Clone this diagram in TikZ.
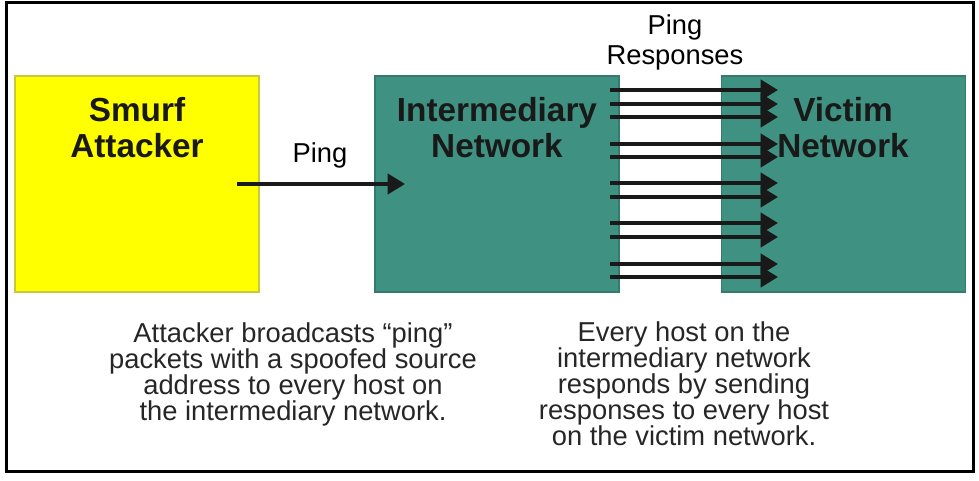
\documentclass[tikz,border=0pt]{standalone}
\usepackage{fontspec}
\setmainfont{Liberation Sans}
\usepackage{xcolor}
\usetikzlibrary{arrows.meta,positioning}
\definecolor{smurfyellow}{HTML}{FFFF00}
\definecolor{smurfedge}{HTML}{C9C940}
\definecolor{netteal}{HTML}{3F9182}
\definecolor{netedge}{HTML}{347A6D}

\begin{document}
\begin{tikzpicture}[x=0.75pt, y=-0.75pt, every node/.style={inner sep=0pt}, box/.style={draw, line width=1pt, minimum width=183pt, minimum height=162pt}, ttl/.style={font=\fontsize{25}{27}\selectfont\bfseries, align=center, anchor=base, text=black!90}, lbl/.style={font=\fontsize{20.5}{22.5}\selectfont, align=center, anchor=base}, note/.style={font=\fontsize{20.5}{19.5}\selectfont, align=center, anchor=base, text=black!85}, arr/.style={-{Triangle[length=13pt, width=15pt]}, line width=3pt, black!90}]
\useasboundingbox (0,0) rectangle (979,481);
\draw[line width=2.25pt] (6,3) rectangle (973,471);
\node[box, fill=smurfyellow, draw=smurfedge] (atk) at (137,184) {};
\node[box, fill=netteal, draw=netedge] (mid) at (497,184) {};
\node[box, fill=netteal, draw=netedge] (vic) at (843.5,184) {};
\node[ttl] (atkt) at (137,158) {Smurf\\Attacker};
\node[ttl] (midt) at (497,158) {Intermediary\\Network};
\node[ttl] (vict) at (843,158) {Victim\\Network};
\node[lbl] (ping) at (320,163) {Ping};
\node[lbl] (resp) at (675,65) {Ping\\Responses};
\coordinate (ps) at (237,184);
\coordinate (pe) at (405,184);
\draw[arr] (ps) -- (pe);
\foreach \y [count=\i] in {90,104,117,144,157,183,197,223,237,264,277}{
  \coordinate (rs\i) at (610,\y);
  \coordinate (re\i) at (778,\y);
  \draw[arr] (rs\i) -- (re\i);
}
\node[note] (atkn) at (293,420) {Attacker broadcasts \textquotedblleft ping\textquotedblright\\packets with a spoofed source\\address to every host on\\the intermediary network.};
\node[note] (vicn) at (684,445) {Every host on the\\intermediary network\\responds by sending\\responses to every host\\on the victim network.};
\end{tikzpicture}
\end{document}
